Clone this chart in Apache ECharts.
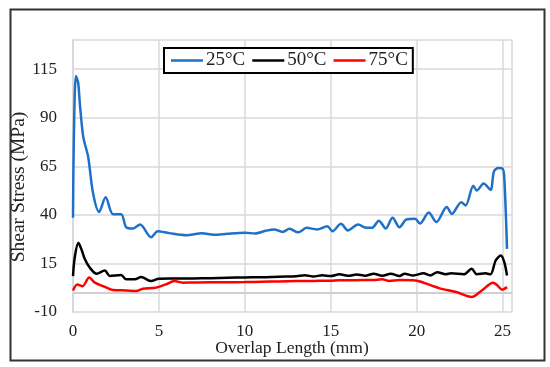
<!DOCTYPE html>
<html>
<head>
<meta charset="utf-8">
<script src="https://cdn.jsdelivr.net/npm/echarts@6/dist/echarts.min.js"></script>
<style>
html,body{margin:0;padding:0;background:#fff;}
#chart{width:550px;height:367px;}
</style>
</head>
<body>
<div id="chart"></div>
<script>
var seriesNames = ['25°C', '50°C', '75°C'];
var xTitle = 'Overlap Length (mm)';
var yTitle = 'Shear Stress (MPa)';

var data25 = [[0,38.5],[0.05,80],[0.17,111.5],[0.3,108],[0.4,97],[0.6,80],[0.88,70],[1.17,51],[1.52,41.5],[1.9,49],[2.33,40.3],[2.8,40.3],[3.1,33.6],[3.5,33],[3.9,35],[4.55,28.5],[4.93,31.6],[5.6,30.6],[6.6,29.5],[7.5,30.5],[8.2,29.7],[9,30.3],[10,30.8],[10.6,30.4],[11.2,31.8],[11.7,32.5],[12.2,31.2],[12.6,32.8],[13.1,31.0],[13.6,33.3],[14.2,32.5],[14.8,34.1],[15.1,31.6],[15.6,35.4],[16.0,32.0],[16.6,35.0],[17.0,33.5],[17.4,33.3],[17.8,37.0],[18.2,33.0],[18.6,38.5],[19.0,33.6],[19.4,37.6],[19.9,38.0],[20.2,35.5],[20.7,41.2],[21.15,36.3],[21.75,44],[22.05,40.5],[22.6,46.5],[22.85,44.8],[23.3,55],[23.5,52.5],[23.9,56.2],[24.3,52.8],[24.5,62.4],[24.75,64.1],[25.0,63.8],[25.1,59.3],[25.26,22.5]];

var data50 = [[0,8.5],[0.1,18],[0.31,25.6],[0.5,22],[0.7,17],[0.98,12.8],[1.37,9.7],[1.85,11.4],[2.14,8.5],[2.8,9],[3.1,6.8],[3.6,6.8],[3.97,8],[4.55,5.9],[5,7.1],[6,7.2],[7,7.3],[8,7.4],[9,7.6],[10,7.8],[11,7.9],[12,8.2],[13,8.4],[13.5,8.9],[14,8.3],[14.5,8.9],[15,8.5],[15.5,9.4],[16,8.6],[16.5,9.3],[17,8.7],[17.5,9.7],[18,8.7],[18.5,9.7],[19,8.5],[19.3,9.7],[19.8,8.8],[20.4,9.9],[20.8,8.8],[21.2,10.5],[21.7,9.4],[22,9.9],[22.75,9.4],[23.2,12.3],[23.5,9.4],[24.0,9.9],[24.3,9.4],[24.6,16.5],[24.9,19.1],[25.1,15.7],[25.26,8.8]];

var data75 = [[0,1.1],[0.25,4.2],[0.56,3.3],[0.94,7.7],[1.27,5.1],[1.75,3.3],[2.33,1.3],[3.1,1.1],[3.68,0.8],[4.06,2.0],[4.8,2.5],[5.4,4.2],[5.9,5.9],[6.4,5.1],[7,5.2],[8,5.3],[9,5.3],[10,5.4],[11,5.6],[12,5.7],[13,5.9],[14,6],[15,6.1],[15.5,6.3],[16.5,6.4],[17.5,6.5],[18,6.8],[18.4,6.0],[19,6.5],[19.8,6.3],[20.2,5.7],[21.3,2.3],[22.3,0.3],[23.2,-2.3],[23.8,1.1],[24.45,5.1],[24.7,3.7],[24.97,1.5],[25.26,2.8]];

var colors = ['#1F70C8', '#000000', '#FF0000'];
var FONT = "'Liberation Serif', 'Times New Roman', serif";

var chart = echarts.init(document.getElementById('chart'), null, {renderer:'canvas'});
function mk(name, data, color, extra) {
  var s = {
    name: name, type: 'line', data: data, smooth: 0.3,
    symbol: 'none', showSymbol: false,
    lineStyle: {color: color, width: 2.5},
    itemStyle: {color: color}, z: 3
  };
  if (extra) for (var k in extra) s[k] = extra[k];
  return s;
}
chart.setOption({
  animation: false,
  backgroundColor: '#fff',
  grid: {left: 73, top: 40, right: 38, bottom: 55, show: false},
  legend: {
    left: 164, top: 48,
    data: seriesNames,
    icon: 'rect',
    itemWidth: 32, itemHeight: 2.5, itemGap: 7,
    borderColor: '#000', borderWidth: 2,
    padding: [3, 5, 3, 7],
    backgroundColor: '#fff',
    textStyle: {fontFamily: FONT, fontSize: 19, color: '#222', lineHeight: 19, padding: [0, 0, 0, -2]}
  },
  xAxis: {
    type: 'value', min: 0, max: 25.55, interval: 5,
    axisLine: {show: true, lineStyle: {color: '#d9d9d9', width: 2}},
    axisTick: {show: false},
    axisLabel: {fontFamily: FONT, fontSize: 17, color: '#222', margin: 11, showMaxLabel: false},
    splitLine: {show: true, lineStyle: {color: '#d9d9d9', width: 1.5}}
  },
  yAxis: {
    type: 'value', min: -10, max: 130, interval: 25,
    axisLine: {show: true, lineStyle: {color: '#d9d9d9', width: 2}},
    axisTick: {show: false},
    axisLabel: {fontFamily: FONT, fontSize: 17, color: '#222', margin: 16, showMaxLabel: false},
    splitLine: {show: true, lineStyle: {color: '#d9d9d9', width: 1.5}}
  },
  graphic: [
    {type: 'rect', left: 8, top: 7, z: -10, silent: true,
     shape: {width: 534, height: 351},
     style: {fill: 'none', stroke: '#333', lineWidth: 2}},
    {type: 'text', z: 10, silent: true,
     x: 292, y: 348,
     style: {text: xTitle, font: "17.5px 'Liberation Serif', 'Times New Roman', serif", fill: '#222',
             textAlign: 'center', textVerticalAlign: 'middle'}},
    {type: 'text', rotation: Math.PI / 2, z: 10, silent: true,
     x: 19, y: 187,
     style: {text: yTitle, font: "19.5px 'Liberation Serif', 'Times New Roman', serif", fill: '#222',
             textAlign: 'center', textVerticalAlign: 'middle'}}
  ],
  series: [
    mk(seriesNames[0], data25, colors[0]),
    mk(seriesNames[1], data50, colors[1]),
    mk(seriesNames[2], data75, colors[2], {
      markLine: {silent: true, symbol: 'none', z: 1, label: {show: false},
        lineStyle: {color: '#d0d0d0', type: 'solid', width: 2},
        data: [{yAxis: 0}]}
    })
  ]
});
</script>
</body>
</html>
